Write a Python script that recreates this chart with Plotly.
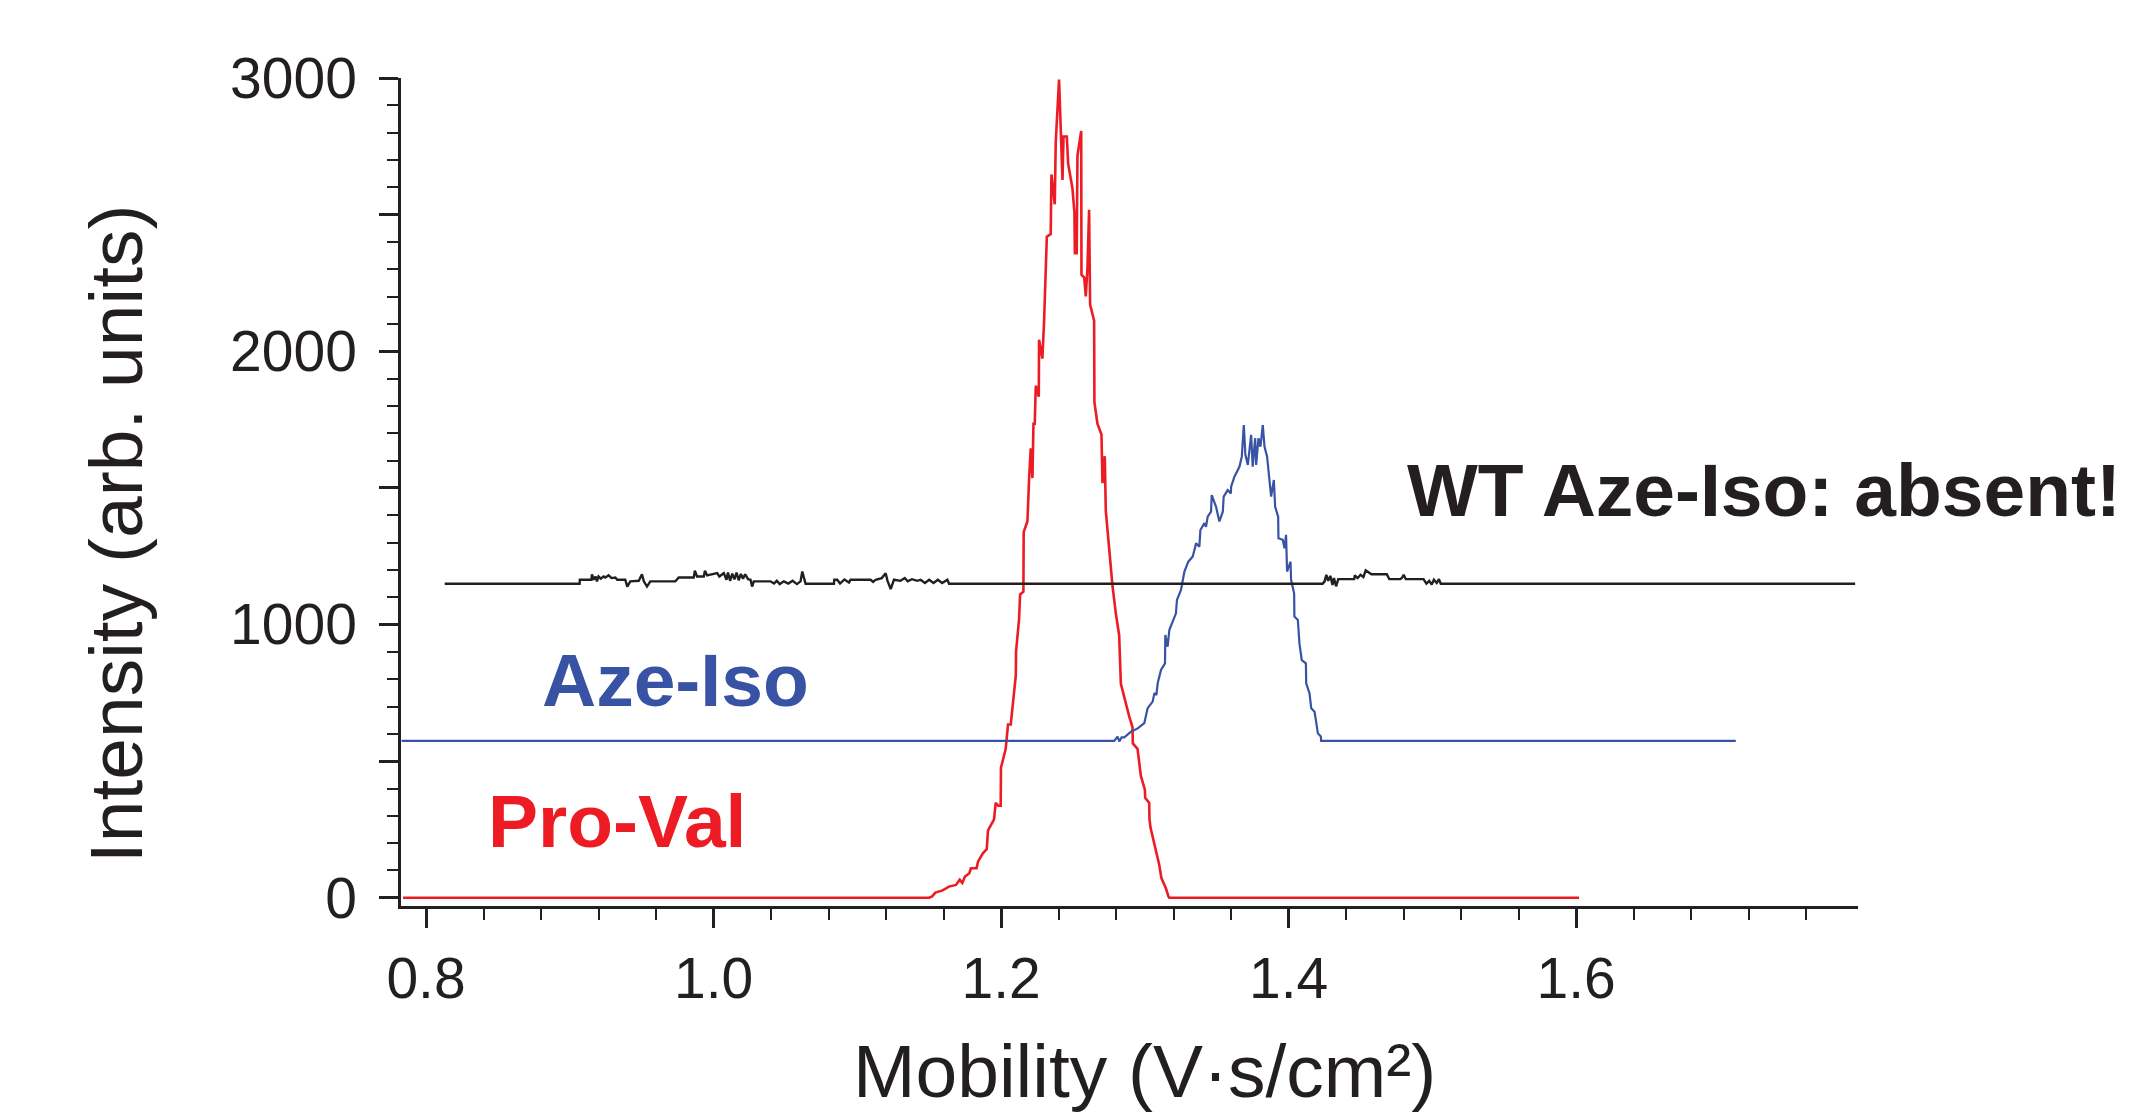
import plotly.graph_objects as go

# ---------------- data ----------------
# Pro-Val (red)
proval_x = [0.784, 1.150, 1.1520, 1.1543, 1.1593, 1.1637, 1.1686, 1.1712, 1.1730, 1.1749, 1.1779,
            1.1790, 1.1829, 1.1840, 1.1873, 1.1900, 1.1909, 1.1951, 1.1962, 1.1980, 1.1997, 1.1999,
            1.2032, 1.2048, 1.2067, 1.2078, 1.2102, 1.2104, 1.2125, 1.2132, 1.2155, 1.2157, 1.2183,
            1.2195, 1.2206, 1.2218, 1.2225, 1.2234, 1.2241, 1.2262, 1.2264, 1.2287, 1.2299, 1.2318,
            1.2345, 1.2350, 1.2373, 1.2380, 1.2392, 1.2403, 1.2427, 1.2434, 1.2457, 1.2466, 1.2496,
            1.2510, 1.2513, 1.2526, 1.2531, 1.2557, 1.2559, 1.2578, 1.2589, 1.2601, 1.2612, 1.2619,
            1.2647, 1.2649, 1.2670, 1.2698, 1.2705, 1.2721, 1.2728, 1.2752, 1.2775, 1.2798, 1.2821,
            1.2833, 1.2856, 1.2891, 1.2914, 1.2916, 1.2949, 1.2972, 1.3000, 1.3002, 1.3030, 1.3032,
            1.3040, 1.3060, 1.3084, 1.3100, 1.3115, 1.3146, 1.3164, 1.3170, 1.602]
proval_y = [0, 0, 5, 19, 27, 41, 47, 66, 54, 78, 90,
            108, 108, 133, 163, 178, 247, 287, 347, 337, 337, 476,
            545, 634, 634, 694, 813, 902, 1021, 1110, 1120, 1338, 1378,
            1536, 1645, 1536, 1735, 1735, 1874, 1834, 2042, 1973, 2112, 2419,
            2429, 2647, 2538, 2766, 2865, 2994, 2627, 2786, 2786, 2687, 2597,
            2508, 2359, 2359, 2716, 2806, 2280, 2270, 2201, 2310, 2518, 2171,
            2112, 1814, 1735, 1695, 1517, 1616, 1417, 1279, 1140, 1041, 961,
            783, 733, 664, 624, 565, 545, 446, 396, 366, 347, 287,
            255, 210, 151, 120, 72, 35, 5, 0, 0]

# Aze-Iso (blue)
azeiso_x = [0.783, 1.2787, 1.2810, 1.2822, 1.2838, 1.2857, 1.2903, 1.2950, 1.2996, 1.3019, 1.3054,
            1.3066, 1.3080, 1.3089, 1.3112, 1.3140, 1.3142, 1.3158, 1.3170, 1.3216, 1.3223, 1.3251,
            1.3275, 1.3302, 1.3333, 1.3356, 1.3379, 1.3386, 1.3414, 1.3425, 1.3437, 1.3460, 1.3465,
            1.3495, 1.3518, 1.3542, 1.3548, 1.3576, 1.3598, 1.3600, 1.3623, 1.3658, 1.3674, 1.3688,
            1.3699, 1.3716, 1.3739, 1.3750, 1.3767, 1.3774, 1.3790, 1.3804, 1.3820, 1.3832, 1.3850,
            1.3866, 1.3878, 1.3897, 1.3906, 1.3927, 1.3929, 1.3959, 1.3971, 1.3982, 1.3989, 1.4013,
            1.4017, 1.4038, 1.4040, 1.4064, 1.4075, 1.4091, 1.4120, 1.4122, 1.4145, 1.4157, 1.4180,
            1.4191, 1.4203, 1.4224, 1.4226, 1.711]
azeiso_y = [574, 574, 590, 572, 587, 587, 608, 620, 639, 694, 718,
            749, 742, 785, 834, 858, 962, 919, 980, 1041, 1090, 1127,
            1194, 1230, 1249, 1297, 1285, 1346, 1371, 1358, 1395, 1413, 1474,
            1431, 1377, 1413, 1468, 1492, 1480, 1505, 1541, 1578, 1614, 1730,
            1621, 1584, 1694, 1578, 1682, 1584, 1682, 1651, 1730, 1651, 1614,
            1529, 1468, 1529, 1431, 1395, 1316, 1310, 1279, 1328, 1194, 1230,
            1163, 1114, 1029, 1017, 931, 870, 858, 785, 749, 694, 681,
            645, 602, 590, 574, 574]

# WT Aze-Iso (black)
wt_x = [0.813, 0.9068, 0.9070, 0.9150, 0.9154, 0.9166, 0.9180, 0.9189, 0.9200, 0.9215, 0.9235,
        0.9247, 0.9270, 0.9290, 0.9317, 0.9330, 0.9386, 0.9400, 0.9421, 0.9480, 0.9502, 0.9515,
        0.9537, 0.9560, 0.9734, 0.9758, 0.9862, 0.9870, 0.9885, 0.9932, 0.9940, 0.9955, 1.0025,
        1.0040, 1.0071, 1.0090, 1.0100, 1.0115, 1.0130, 1.0145, 1.0160, 1.0175, 1.0190, 1.0205,
        1.0220, 1.0240, 1.0257, 1.0268, 1.0280, 1.0396, 1.0420, 1.0440, 1.0460, 1.0489, 1.0520,
        1.0550, 1.0580, 1.0605, 1.0617, 1.0640, 1.0837, 1.0840, 1.0860, 1.0880, 1.0910, 1.0942,
        1.0953, 1.1092, 1.1110, 1.1127, 1.1170, 1.1197, 1.1210, 1.1232, 1.1255, 1.1300, 1.1330,
        1.1350, 1.1380, 1.1417, 1.1440, 1.1470, 1.1500, 1.1530, 1.1560, 1.1590, 1.1626, 1.1638,
        1.4236, 1.4250, 1.4262, 1.4275, 1.4290, 1.4305, 1.4315, 1.4330, 1.4345, 1.4456, 1.4460,
        1.4480, 1.4500, 1.4520, 1.4536, 1.4576, 1.4683, 1.4700, 1.4777, 1.4790, 1.4800, 1.4815,
        1.4938, 1.4958, 1.4978, 1.4995, 1.5010, 1.5030, 1.5045, 1.5058, 1.794]
wt_y = [1149, 1149, 1164, 1164, 1184, 1164, 1176, 1158, 1176, 1168, 1176,
        1172, 1180, 1170, 1172, 1164, 1164, 1139, 1158, 1160, 1184, 1158,
        1139, 1158, 1158, 1172, 1172, 1197, 1176, 1176, 1197, 1180, 1188,
        1176, 1188, 1164, 1190, 1160, 1186, 1165, 1190, 1162, 1185, 1168,
        1184, 1166, 1164, 1139, 1158, 1158, 1150, 1160, 1148, 1158, 1150,
        1160, 1148, 1158, 1194, 1149, 1149, 1164, 1164, 1150, 1165, 1154,
        1164, 1164, 1156, 1164, 1170, 1188, 1160, 1130, 1164, 1160, 1170,
        1158, 1166, 1160, 1164, 1152, 1164, 1152, 1164, 1152, 1164, 1149,
        1149, 1158, 1182, 1160, 1178, 1145, 1170, 1140, 1166, 1166, 1180,
        1170, 1182, 1174, 1198, 1184, 1184, 1166, 1166, 1172, 1182, 1166,
        1166, 1150, 1160, 1146, 1164, 1152, 1166, 1149, 1149]

x_major_ticks = [0.8, 1.0, 1.2, 1.4, 1.6]
x_major_labels = ["0.8", "1.0", "1.2", "1.4", "1.6"]
y_major_ticks = [0, 500, 1000, 1500, 2000, 2500, 3000]
y_major_labels = ["0", "", "1000", "", "2000", "", "3000"]

RED = "#ED1C24"
BLUE = "#3953A4"
BLACK = "#231F20"
FONT = "Liberation Sans, Arial, Helvetica, sans-serif"

fig = go.Figure()
fig.add_trace(go.Scatter(x=proval_x, y=proval_y, mode="lines",
                         line=dict(color=RED, width=2.6), name="Pro-Val"))
fig.add_trace(go.Scatter(x=azeiso_x, y=azeiso_y, mode="lines",
                         line=dict(color=BLUE, width=2.2), name="Aze-Iso"))
fig.add_trace(go.Scatter(x=wt_x, y=wt_y, mode="lines",
                         line=dict(color=BLACK, width=2.4), name="WT Aze-Iso"))

fig.update_layout(
    width=2139, height=1115,
    margin=dict(l=401, r=281, t=78, b=209, pad=0),
    showlegend=False,
    plot_bgcolor="white", paper_bgcolor="white",
    font=dict(family=FONT, color=BLACK),
)

fig.update_xaxes(
    range=[0.7826, 1.796], showgrid=False, zeroline=False,
    showline=True, linecolor=BLACK, linewidth=2.5,
    ticks="outside", tickvals=x_major_ticks, ticktext=x_major_labels,
    ticklen=19, tickwidth=2.5, tickcolor=BLACK,
    tickfont=dict(size=57, family=FONT, color=BLACK),
    ticklabelstandoff=2,
    minor=dict(tick0=0.8, dtick=0.04, ticks="outside", ticklen=11,
               tickwidth=2, tickcolor=BLACK, showgrid=False),
)
fig.update_yaxes(
    range=[-30, 3000], showgrid=False, zeroline=False,
    showline=True, linecolor=BLACK, linewidth=2.5,
    ticks="outside", tickvals=y_major_ticks, ticktext=y_major_labels,
    ticklen=19, tickwidth=2.5, tickcolor=BLACK,
    tickfont=dict(size=57, family=FONT, color=BLACK),
    ticklabelstandoff=11,
    minor=dict(tick0=0, dtick=100, ticks="outside", ticklen=11,
               tickwidth=2, tickcolor=BLACK, showgrid=False),
)

annotations = [
    dict(text="Mobility (V·s/cm²)", x=0.510, y=-0.199, xref="paper", yref="paper",
         xanchor="center", yanchor="middle", showarrow=False,
         font=dict(size=75, family=FONT, color=BLACK)),
    dict(text="Intensity (arb. units)", x=-0.1955, y=0.4493, xref="paper", yref="paper",
         xanchor="center", yanchor="middle", textangle=-90, showarrow=False,
         font=dict(size=75, family=FONT, color=BLACK)),
    dict(text="<b>WT Aze-Iso: absent!</b>", x=0.689, y=0.502, xref="paper", yref="paper",
         xanchor="left", yanchor="middle", showarrow=False,
         font=dict(size=75, family=FONT, color=BLACK)),
    dict(text="<b>Aze-Iso</b>", x=0.0954, y=0.273, xref="paper", yref="paper",
         xanchor="left", yanchor="middle", showarrow=False,
         font=dict(size=75, family=FONT, color=BLUE)),
    dict(text="<b>Pro-Val</b>", x=0.0583, y=0.1027, xref="paper", yref="paper",
         xanchor="left", yanchor="middle", showarrow=False,
         font=dict(size=75, family=FONT, color=RED)),
]
fig.update_layout(annotations=annotations)

fig.write_html("out.html")
